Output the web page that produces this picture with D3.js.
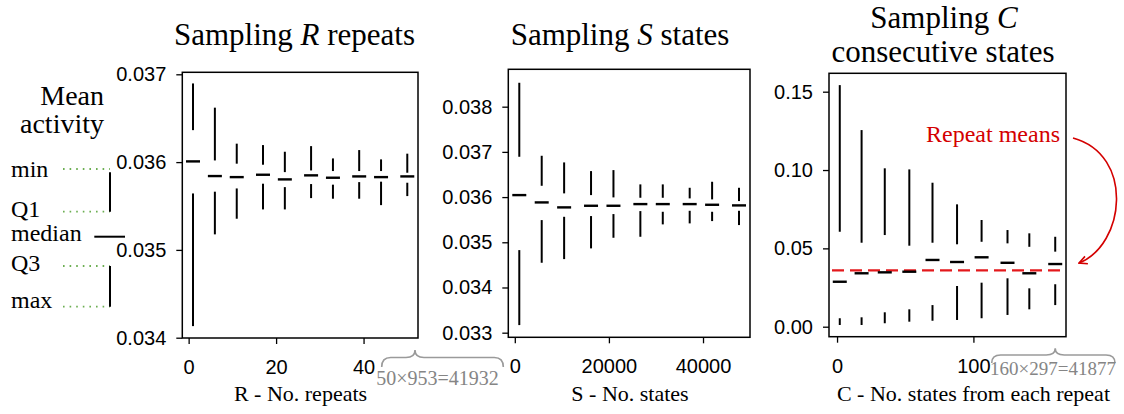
<!DOCTYPE html>
<html lang="en">
<head>
	<meta charset="utf-8">
	<title>Sampling mean activity</title>
	<script src="https://cdn.jsdelivr.net/npm/d3@7"></script>
	<style>
		body { margin: 0; background: white; }
		svg { display: block; font-family: "Liberation Serif", "Times New Roman", serif; }
		.tick line { stroke: black; stroke-width: 1.3; }
		.tick text { fill: black; }
	</style>
</head>
<body>
	<script type="text/javascript">
		// Panel 1 : sampling R repeats
		var rX      = [1, 6, 11, 17, 22, 28, 33, 39, 44, 50];
		var rMax    = [0.036896, 0.036620, 0.036210, 0.036194, 0.036118, 0.036182, 0.036042, 0.036137, 0.036031, 0.036096];
		var rQ3     = [0.036364, 0.036019, 0.035982, 0.035970, 0.035886, 0.035905, 0.035898, 0.035898, 0.035898, 0.035879];
		var rMedian = [0.036008, 0.035841, 0.035829, 0.035856, 0.035803, 0.035849, 0.035822, 0.035837, 0.035829, 0.035837];
		var rQ1     = [0.035643, 0.035663, 0.035700, 0.035754, 0.035715, 0.035750, 0.035743, 0.035772, 0.035777, 0.035765];
		var rMin    = [0.034132, 0.035177, 0.035355, 0.035461, 0.035461, 0.035590, 0.035583, 0.035583, 0.035510, 0.035613];
		var rTicksX = [0, 20, 40];
		var rTicksY = [0.034, 0.035, 0.036, 0.037];

		// Panel 2 : sampling S states
		var sX      = [953, 5718, 10483, 16201, 20966, 26684, 31449, 37167, 41932, 47650];
		var sMax    = [0.038529, 0.036914, 0.036767, 0.036575, 0.036597, 0.036281, 0.036281, 0.036206, 0.036339, 0.036206];
		var sQ3     = [0.036892, 0.036250, 0.036082, 0.036044, 0.035993, 0.035985, 0.035985, 0.035971, 0.035949, 0.035912];
		var sMedian = [0.036044, 0.035882, 0.035772, 0.035808, 0.035808, 0.035845, 0.035845, 0.035845, 0.035830, 0.035816];
		var sQ1     = [0.034827, 0.035491, 0.035564, 0.035580, 0.035624, 0.035690, 0.035675, 0.035697, 0.035675, 0.035697];
		var sMin    = [0.033168, 0.034547, 0.034628, 0.034865, 0.035100, 0.035122, 0.035396, 0.035418, 0.035469, 0.035381];
		var sTicksX = [0, 20000, 40000];
		var sTicksY = [0.033, 0.034, 0.035, 0.036, 0.037, 0.038];

		// Panel 3 : sampling C consecutive states
		var cX      = [2, 18, 35, 53, 70, 88, 106, 125, 141, 160];
		var cMax    = [0.1542, 0.1255, 0.1011, 0.1004, 0.0919, 0.0781, 0.0681, 0.0617, 0.0596, 0.0574];
		var cQ3     = [0.0606, 0.0536, 0.0585, 0.0517, 0.0536, 0.0526, 0.0542, 0.0532, 0.0510, 0.0479];
		var cMedian = [0.0287, 0.0341, 0.0347, 0.0351, 0.0426, 0.0413, 0.0443, 0.0408, 0.0341, 0.0400];
		var cQ1     = [0.0054, 0.0060, 0.0092, 0.0111, 0.0138, 0.0260, 0.0281, 0.0309, 0.0245, 0.0271];
		var cMin    = [0.0011, 0.0011, 0.0022, 0.0032, 0.0038, 0.0043, 0.0054, 0.0075, 0.0111, 0.0138];
		var cTicksX = [0, 100];
		var cTicksY = [0.00, 0.05, 0.10, 0.15];
		var repeatMean = 0.0360;

		var legendLabels = ["min", "Q1", "median", "Q3", "max"];

		var w = 1124;
		var h = 414;

		var svg = d3.select("body")
					.append("svg")
					.attr("width", w)
					.attr("height", h);

		// matplotlib style 5% margin on the x data range
		var padded = function(vals) {
			var lo = d3.min(vals), hi = d3.max(vals), m = (hi - lo) * 0.05;
			return [lo - m, hi + m];
		};

		var drawPanel = function(p) {
			var x = d3.scaleLinear().domain(padded(p.xs)).range([p.left, p.right]);
			var y = d3.scaleLinear().domain(p.yDomain).range([p.bottom, p.top]);
			var g = svg.append("g");

			g.append("g")
			 .attr("transform", "translate(" + p.left + ",0)")
			 .call(d3.axisLeft(y).tickValues(p.yTicks).tickFormat(d3.format(p.yFormat)).tickSize(6).tickPadding(10))
			 .call(function(a) { a.select(".domain").remove(); })
			 .selectAll("text").style("font-size", "20px").style("font-family", "inherit");

			g.append("g")
			 .attr("transform", "translate(0," + p.bottom + ")")
			 .call(d3.axisBottom(x).tickValues(p.xTicks).tickFormat(d3.format("d")).tickSize(6).tickPadding(16))
			 .call(function(a) { a.select(".domain").remove(); })
			 .selectAll("text").style("font-size", "20px").style("font-family", "inherit");

			var idx = d3.range(p.xs.length);

			// upper whisker (max -> Q3)
			g.selectAll(".up").data(idx).enter().append("line")
			 .attr("x1", function(i) { return x(p.xs[i]); })
			 .attr("x2", function(i) { return x(p.xs[i]); })
			 .attr("y1", function(i) { return y(p.max[i]); })
			 .attr("y2", function(i) { return y(p.q3[i]); })
			 .attr("stroke", "black").attr("stroke-width", 2);

			// lower whisker (Q1 -> min)
			g.selectAll(".down").data(idx).enter().append("line")
			 .attr("x1", function(i) { return x(p.xs[i]); })
			 .attr("x2", function(i) { return x(p.xs[i]); })
			 .attr("y1", function(i) { return y(p.q1[i]); })
			 .attr("y2", function(i) { return y(p.min[i]); })
			 .attr("stroke", "black").attr("stroke-width", 2);

			if (p.mean !== undefined) {
				g.append("line")
				 .attr("x1", p.left + 3).attr("x2", p.right - 2)
				 .attr("y1", y(p.mean)).attr("y2", y(p.mean))
				 .attr("stroke", "#e3191c").attr("stroke-width", 2.2)
				 .attr("stroke-dasharray", "12,6");
			}

			// medians
			g.selectAll(".med").data(idx).enter().append("line")
			 .attr("x1", function(i) { return x(p.xs[i]) - 7; })
			 .attr("x2", function(i) { return x(p.xs[i]) + 7; })
			 .attr("y1", function(i) { return y(p.median[i]); })
			 .attr("y2", function(i) { return y(p.median[i]); })
			 .attr("stroke", "black").attr("stroke-width", 2.4);

			// frame
			g.append("rect")
			 .attr("x", p.left).attr("y", p.top)
			 .attr("width", p.right - p.left).attr("height", p.bottom - p.top)
			 .attr("fill", "none").attr("stroke", "black").attr("stroke-width", 1.5);

			return x;
		};

		var x1 = drawPanel({ xs: rX, max: rMax, q3: rQ3, median: rMedian, q1: rQ1, min: rMin,
			left: 182.3, right: 418, top: 72.3, bottom: 338,
			yDomain: [0.0339966, 0.0370228], yTicks: rTicksY, yFormat: ".3f", xTicks: rTicksX });

		var x2 = drawPanel({ xs: sX, max: sMax, q3: sQ3, median: sMedian, q1: sQ1, min: sMin,
			left: 508.3, right: 750, top: 69.3, bottom: 337.3,
			yDomain: [0.032898, 0.038827], yTicks: sTicksY, yFormat: ".3f", xTicks: sTicksX });

		var x3 = drawPanel({ xs: cX, max: cMax, q3: cQ3, median: cMedian, q1: cQ1, min: cMin,
			left: 829, right: 1066, top: 73.3, bottom: 336.7,
			yDomain: [-0.00638, 0.16174], yTicks: cTicksY, yFormat: ".2f", xTicks: cTicksX,
			mean: repeatMean });

		// titles
		var title1 = svg.append("text").attr("x", 294.5).attr("y", 45)
						.attr("text-anchor", "middle").style("font-size", "31px");
		title1.append("tspan").text("Sampling ");
		title1.append("tspan").style("font-style", "italic").text("R");
		title1.append("tspan").text(" repeats");

		var title2 = svg.append("text").attr("x", 620).attr("y", 45)
						.attr("text-anchor", "middle").style("font-size", "31px");
		title2.append("tspan").text("Sampling ");
		title2.append("tspan").style("font-style", "italic").text("S");
		title2.append("tspan").text(" states");

		var title3 = svg.append("text").attr("x", 944).attr("y", 28)
						.attr("text-anchor", "middle").style("font-size", "31px");
		title3.append("tspan").text("Sampling ");
		title3.append("tspan").style("font-style", "italic").text("C");
		svg.append("text").attr("x", 943).attr("y", 61.5)
		   .attr("text-anchor", "middle").style("font-size", "31px")
		   .text("consecutive states");

		// axis labels
		svg.append("text").attr("x", 300.5).attr("y", 401).attr("text-anchor", "middle")
		   .style("font-size", "22px").text("R - No. repeats");
		svg.append("text").attr("x", 630).attr("y", 401).attr("text-anchor", "middle")
		   .style("font-size", "22px").text("S - No. states");
		svg.append("text").attr("x", 1110).attr("y", 401).attr("text-anchor", "end")
		   .style("font-size", "22px").text("C - No. states from each repeat");

		// braces under panel corners
		var brace = function(x0, xt, x1, yEnd, yMid, yTip) {
			var r = 9;
			return "M" + x0 + "," + yEnd +
				" Q" + x0 + "," + yMid + " " + (x0 + r) + "," + yMid +
				" L" + (xt - r) + "," + yMid +
				" Q" + xt + "," + yMid + " " + xt + "," + yTip +
				" Q" + xt + "," + yMid + " " + (xt + r) + "," + yMid +
				" L" + (x1 - r) + "," + yMid +
				" Q" + x1 + "," + yMid + " " + x1 + "," + yEnd;
		};
		svg.append("path").attr("d", brace(381.7, 415, 503.3, 367, 357.5, 350))
		   .attr("fill", "none").attr("stroke", "#9a9a9a").attr("stroke-width", 1.6);
		svg.append("text").attr("x", 437.5).attr("y", 385).attr("text-anchor", "middle")
		   .attr("fill", "#858585").style("font-size", "20px").text("50×953=41932");

		svg.append("path").attr("d", brace(991.7, x3(cX[cX.length - 1]), 1115, 363, 355, 348.3))
		   .attr("fill", "none").attr("stroke", "#9a9a9a").attr("stroke-width", 1.6);
		svg.append("text").attr("x", 1116).attr("y", 375).attr("text-anchor", "end")
		   .attr("fill", "#858585").style("font-size", "19px").text("160×297=41877");

		// repeat means annotation
		svg.append("defs").append("marker")
		   .attr("id", "head").attr("viewBox", "0 0 10 10")
		   .attr("refX", 9).attr("refY", 5)
		   .attr("markerWidth", 10).attr("markerHeight", 10)
		   .attr("markerUnits", "userSpaceOnUse")
		   .attr("orient", "auto")
		   .append("path").attr("d", "M1,1 L9,5 L1,9")
		   .attr("fill", "none").attr("stroke", "#d40000").attr("stroke-width", 1.6);

		svg.append("text").attr("x", 1060).attr("y", 141.5).attr("text-anchor", "end")
		   .attr("fill", "#d40000").style("font-size", "24px").text("Repeat means");
		svg.append("path").attr("d", "M1073,138 C1135,155 1125,245 1079,263")
		   .attr("fill", "none").attr("stroke", "#d40000").attr("stroke-width", 1.6)
		   .attr("marker-end", "url(#head)");

		// legend for the box marks
		var legend = svg.append("g");
		legend.append("text").attr("x", 104).attr("y", 105).attr("text-anchor", "end")
			  .style("font-size", "28px").text("Mean");
		legend.append("text").attr("x", 104).attr("y", 133).attr("text-anchor", "end")
			  .style("font-size", "28px").text("activity");

		var labelY = [176.7, 216.7, 240.5, 270.7, 308.3];
		legend.selectAll(".lab").data(legendLabels).enter().append("text")
			  .attr("x", 11).attr("y", function(d, i) { return labelY[i]; })
			  .style("font-size", "24px").text(function(d) { return d; });

		var dotY = [169, 211.7, 266, 306.7];
		legend.selectAll(".dot").data(dotY).enter().append("line")
			  .attr("x1", 63).attr("x2", 110)
			  .attr("y1", function(d) { return d; }).attr("y2", function(d) { return d; })
			  .attr("stroke", "#6cae52").attr("stroke-width", 1.8)
			  .attr("stroke-dasharray", "1.6,5");
		legend.append("line").attr("x1", 110).attr("x2", 110).attr("y1", 172.3).attr("y2", 211.7)
			  .attr("stroke", "black").attr("stroke-width", 2);
		legend.append("line").attr("x1", 110).attr("x2", 110).attr("y1", 266).attr("y2", 306.7)
			  .attr("stroke", "black").attr("stroke-width", 2);
		legend.append("line").attr("x1", 94.3).attr("x2", 125).attr("y1", 236.7).attr("y2", 236.7)
			  .attr("stroke", "black").attr("stroke-width", 2);
	</script>
</body>
</html>
